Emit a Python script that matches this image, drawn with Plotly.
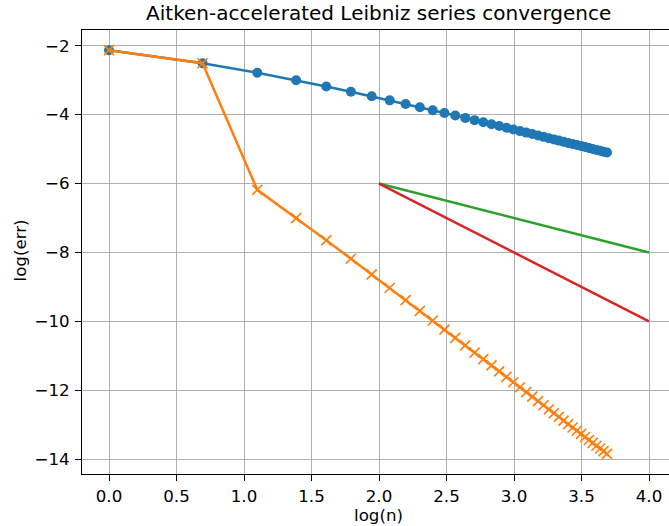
import plotly.graph_objects as go

# log(n) for n = 1..40
log_n = [0.0, 0.693147, 1.098612, 1.386294, 1.609438, 1.791759, 1.945910, 2.079442,
         2.197225, 2.302585, 2.397895, 2.484907, 2.564949, 2.639057, 2.708050, 2.772589,
         2.833213, 2.890372, 2.944439, 2.995732, 3.044522, 3.091042, 3.135494, 3.178054,
         3.218876, 3.258097, 3.295837, 3.332205, 3.367296, 3.401197, 3.433987, 3.465736,
         3.496508, 3.526361, 3.555348, 3.583519, 3.610918, 3.637586, 3.663562, 3.688879]

# log(err) of plain Leibniz partial sums
log_err_plain = [-2.1309, -2.5100, -2.7873, -3.0053, -3.1848, -3.3372, -3.4696, -3.5865,
                 -3.6914, -3.7862, -3.8729, -3.9527, -4.0266, -4.0955, -4.1599, -4.2204,
                 -4.2774, -4.3314, -4.3827, -4.4314, -4.4779, -4.5223, -4.5648, -4.6056,
                 -4.6448, -4.6825, -4.7188, -4.7539, -4.7878, -4.8205, -4.8523, -4.8830,
                 -4.9129, -4.9418, -4.9700, -4.9974, -5.0241, -5.0500, -5.0753, -5.1000]

# log(err) of Aitken-accelerated sums
log_err_aitken = [-2.1309, -2.5100, -6.1825, -7.0003, -7.6469, -8.1805, -8.6347, -9.0298,
                  -9.3793, -9.6925, -9.9764, -10.2359, -10.4747, -10.6961, -10.9022, -11.0952,
                  -11.2765, -11.4475, -11.6093, -11.7629, -11.9090, -12.0483, -12.1814, -12.3089,
                  -12.4312, -12.5487, -12.6618, -12.7708, -12.8760, -12.9776, -13.0758, -13.1710,
                  -13.2633, -13.3528, -13.4397, -13.5241, -13.6063, -13.6862, -13.7641, -13.8400]

# reference slope lines
ref_x = [2.0, 4.0]
ref_slope1_y = [-6.0, -8.0]
ref_slope2_y = [-6.0, -10.0]

x_ticks = [0.0, 0.5, 1.0, 1.5, 2.0, 2.5, 3.0, 3.5, 4.0]
y_ticks = [-14, -12, -10, -8, -6, -4, -2]

FONT = "DejaVu Sans"
PX = 120 / 72.0          # points -> pixels at 120 dpi
LW = 1.5 * PX
TICK_FS = 10 * PX
TITLE_FS = 12 * PX

fig = go.Figure()
fig.add_trace(go.Scatter(x=log_n, y=log_err_plain, mode="lines+markers",
                         line=dict(color="#1f77b4", width=LW),
                         marker=dict(symbol="circle", size=6 * PX, color="#1f77b4", line=dict(width=0))))
fig.add_trace(go.Scatter(x=log_n, y=log_err_aitken, mode="lines+markers",
                         line=dict(color="#ff7f0e", width=LW),
                         marker=dict(symbol="x-thin", size=6 * PX, color="#ff7f0e",
                                     line=dict(width=1.0 * PX, color="#ff7f0e"))))
fig.add_trace(go.Scatter(x=ref_x, y=ref_slope1_y, mode="lines",
                         line=dict(color="#2ca02c", width=LW)))
fig.add_trace(go.Scatter(x=ref_x, y=ref_slope2_y, mode="lines",
                         line=dict(color="#d62728", width=LW)))

axis_common = dict(
    showgrid=True, gridcolor="#b0b0b0", gridwidth=0.8 * PX,
    zeroline=False, showline=True, linecolor="black", linewidth=0.8 * PX,
    ticks="outside", ticklen=3.5 * PX, tickwidth=0.8 * PX, tickcolor="black",
    tickfont=dict(family=FONT, size=TICK_FS, color="black"),
    automargin=False,
)

fig.update_layout(
    width=669, height=526,
    margin=dict(l=82, r=0, t=30, b=52),
    paper_bgcolor="white", plot_bgcolor="white",
    showlegend=False,
    font=dict(family=FONT, color="black"),
    title=dict(text="Aitken-accelerated Leibniz series convergence",
               font=dict(family=FONT, size=TITLE_FS, color="black"),
               x=378.7 / 669, xref="container", xanchor="center",
               y=1 - 13.3 / 526, yref="container", yanchor="middle"),
    xaxis=dict(range=[-0.2, -0.2 + 587 / 135.0], tickvals=x_ticks,
               ticktext=[f"{v:.1f}" for v in x_ticks], mirror=True,
               ticklabelstandoff=1, **axis_common),
    yaxis=dict(range=[-14.4255, -1.5454], tickvals=y_ticks,
               ticktext=[f"\u2212{abs(v)}" for v in y_ticks], mirror=False,
               ticklabelstandoff=2, **axis_common),
    annotations=[
        dict(text="log(n)", xref="paper", yref="paper",
             x=(378.7 - 82) / 587, y=(474 - 515) / 444,
             xanchor="center", yanchor="middle", showarrow=False,
             font=dict(family=FONT, size=TICK_FS, color="black")),
        dict(text="log(err)", xref="paper", yref="paper",
             x=(19.5 - 82) / 587, y=(474 - 251) / 444, textangle=-90,
             xanchor="center", yanchor="middle", showarrow=False,
             font=dict(family=FONT, size=TICK_FS, color="black")),
    ],
)

fig.write_html("out.html",
               config={"displayModeBar": False},
               post_script="document.body.style.margin='0';document.body.style.padding='0';document.body.style.overflow='hidden';")
